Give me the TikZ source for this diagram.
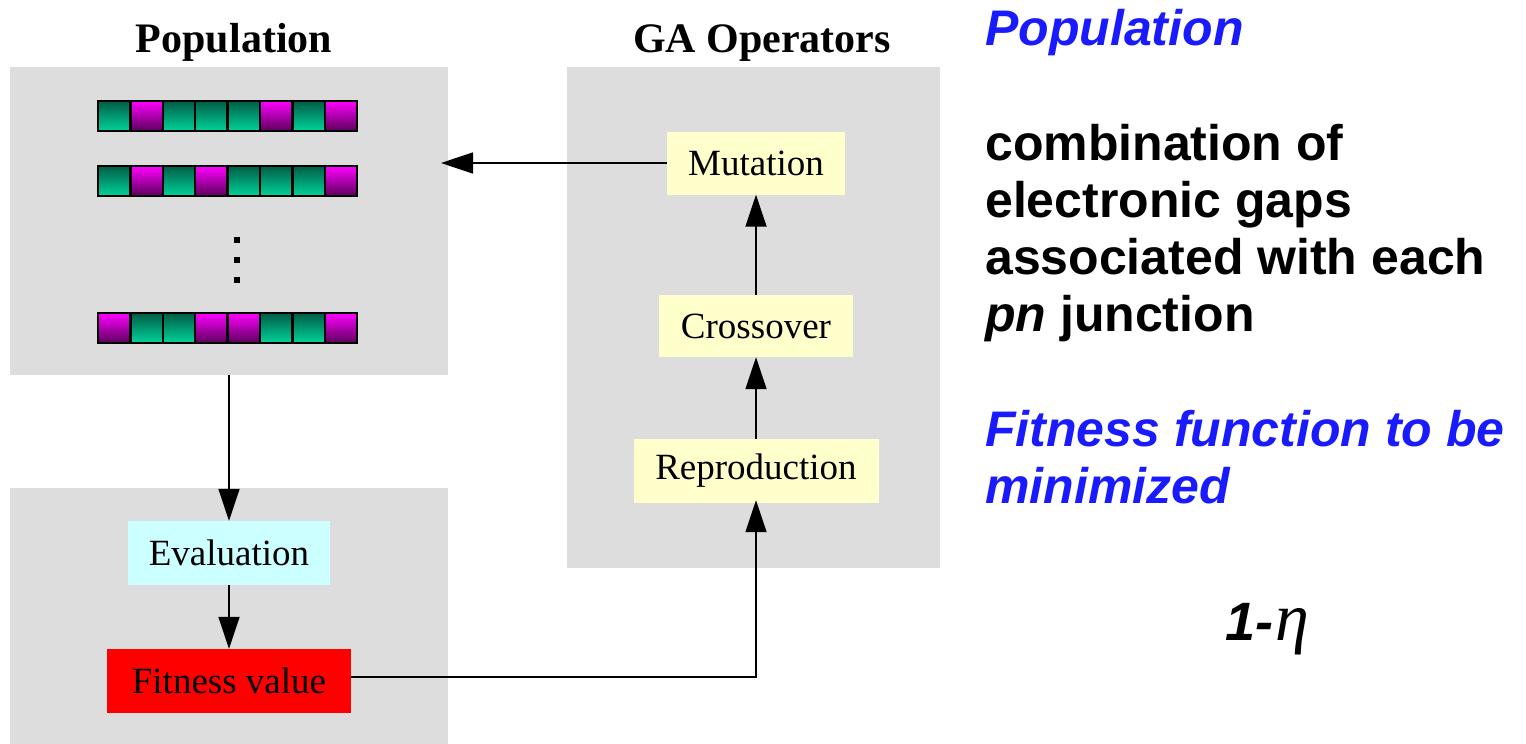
\documentclass[tikz,border=0pt]{standalone}
\usepackage{fontspec}
\setmainfont{Liberation Serif}
\newfontfamily\sansb{Liberation Sans}
\usetikzlibrary{arrows.meta}
\definecolor{panelgray}{HTML}{DDDDDD}
\definecolor{opyellow}{HTML}{FFFFCC}
\definecolor{evalcyan}{HTML}{CCFFFF}
\definecolor{fitred}{HTML}{FF0000}
\definecolor{blueText}{HTML}{1A1AFF}
\definecolor{gtop}{HTML}{005C45}
\definecolor{gbot}{HTML}{00D49A}
\definecolor{mtop}{HTML}{FF00FF}
\definecolor{mbot}{HTML}{5A005A}
\tikzset{
  panel/.style={fill=panelgray, draw=none, inner sep=0pt, anchor=north west},
  opbox/.style={draw=none, inner sep=0pt, font=\fontsize{37}{40}\selectfont},
  title/.style={font=\fontsize{42}{46}\selectfont\bfseries, anchor=base},
  arr/.style={line width=1.8pt, -{Triangle[length=32pt,width=21pt]}},
  gcell/.style={draw=black, line width=2.4pt, top color=gtop, bottom color=gbot, minimum width=32.4pt, minimum height=30pt, inner sep=0pt},
  mcell/.style={draw=black, line width=2.4pt, top color=mtop, bottom color=mbot, minimum width=32.4pt, minimum height=30pt, inner sep=0pt},
  dotmark/.style={fill=black, minimum size=6pt, inner sep=0pt},
  rtext/.style={anchor=base west, inner sep=0pt, font=\fontsize{50}{57}\selectfont\sansb\bfseries},
  btext/.style={anchor=base west, inner sep=0pt, text=blueText, font=\fontsize{50}{57}\selectfont\sansb\bfseries\itshape}
}
\begin{document}
\begin{tikzpicture}[x=1pt,y=-1pt]
\useasboundingbox (0,0) rectangle (1526,744);
% panels
\node[panel, minimum width=438pt, minimum height=308pt] (poppanel) at (10,67) {};
\node[panel, minimum width=438pt, minimum height=256pt] (evalpanel) at (10,488) {};
\node[panel, minimum width=373pt, minimum height=501pt] (gapanel) at (567,67) {};
% titles
\node[title] (poptitle) at (234,52) {Population};
\node[title] (gatitle) at (762,52) {GA Operators};
% chromosomes
\foreach \r/\yy/\pat in {1/116/{g,m,g,g,g,m,g,m}, 2/181/{g,m,g,m,g,g,g,m}, 3/328/{m,g,g,m,m,g,g,m}}{
  \foreach \c [count=\i] in \pat {
    \node[\c cell] (cell\r-\i) at ({98+32.4*(\i-0.5)},\yy) {};
  }
}
% dots
\node[dotmark] (d1) at (237,240) {};
\node[dotmark] (d2) at (237,260) {};
\node[dotmark] (d3) at (237,280) {};
% operator boxes
\node[opbox, fill=opyellow, minimum width=178pt, minimum height=63pt] (mut) at (756,163) {Mutation};
\node[opbox, fill=opyellow, minimum width=194pt, minimum height=62pt] (cross) at (756,326) {Crossover};
\node[opbox, fill=opyellow, minimum width=245pt, minimum height=64pt] (rep) at (756,471) {Reproduction};
\node[opbox, fill=evalcyan, minimum width=202pt, minimum height=64pt] (eval) at (229,553) {Evaluation};
\node[opbox, fill=fitred, minimum width=244pt, minimum height=64pt] (fit) at (229,681) {Fitness value};
% connectors
\coordinate (popin) at (441,163);
\draw[arr] (mut.west) -- (popin);
\draw[arr] (cross.north) -- (mut.south);
\draw[arr] (rep.north) -- (cross.south);
\draw[arr] (poppanel.south -| eval.north) -- (eval.north);
\draw[arr] (eval.south) -- (fit.north);
\draw[arr] ([yshift=4pt]fit.east) -| ([yshift=3pt]rep.south);
% right-hand text
\node[btext] (t1) at (985,45) {Population};
\node[rtext] (t2) at (985,160) {combination of};
\node[rtext] (t3) at (985,217) {electronic gaps};
\node[rtext] (t4) at (985,274) {associated with each};
\node[rtext] (t5) at (985,331) {{\itshape pn} junction};
\node[btext] (t6) at (985,446) {Fitness function to be};
\node[btext] (t7) at (985,503) {minimized};
\node[anchor=base west, inner sep=0pt, font=\fontsize{54}{60}\selectfont\sansb\bfseries\itshape] (eta) at (1225,640) {1-\hspace{2pt}{\rmfamily\mdseries\fontsize{68}{68}\selectfont η}};
\end{tikzpicture}
\end{document}
